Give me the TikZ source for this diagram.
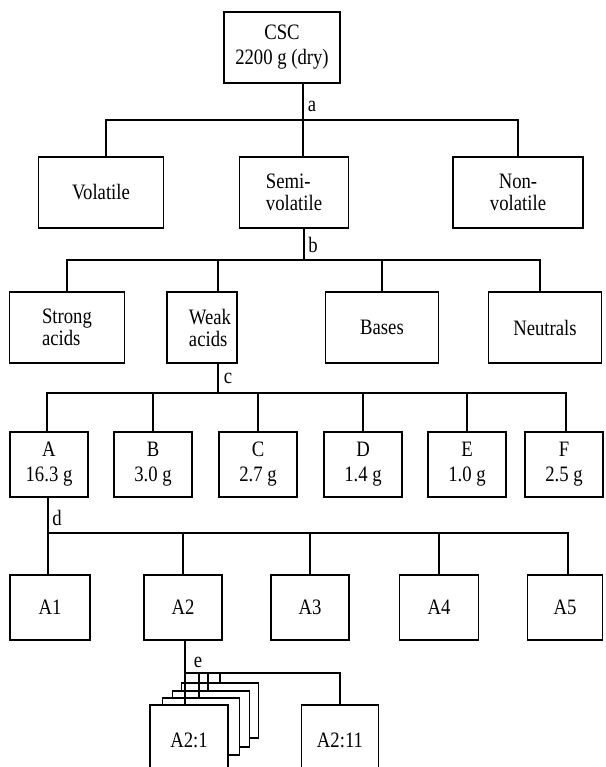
\documentclass[tikz,border=0pt]{standalone}
\usepackage{fontspec}
\setmainfont{Liberation Serif}[FakeStretch=0.85]
\begin{document}
\begin{tikzpicture}[x=1pt,y=-1pt,
  box/.style={draw, line width=1.4pt, inner sep=0pt, outer sep=0pt, fill=white,
    font=\fontsize{22}{22}\selectfont, align=center},
  mbox/.style={box, font=\fontsize{22}{25}\selectfont},
  conn/.style={line width=1.4pt},
  lbl/.style={font=\fontsize{22}{22}\selectfont, inner sep=0pt}]
\useasboundingbox (0,0) rectangle (605,767);
% level 0
\node[mbox, minimum width=116pt, minimum height=71pt] (csc) at (282,47.5) {CSC\\2200 g (dry)};
% level 1
\node[box, minimum width=125pt, minimum height=71pt] (vol) at (101,192.5) {Volatile};
\node[box, minimum width=109pt, minimum height=71pt, align=left] (semi) at (294,192.5) {Semi-\\volatile};
\node[box, minimum width=130pt, minimum height=71pt] (non) at (518,192.5) {Non-\\volatile};
% level 2
\node[box, minimum width=115pt, minimum height=71pt, align=left] (strong) at (67,327.5) {Strong\\acids};
\node[box, minimum width=70pt, minimum height=71pt, align=left] (weak) at (202,327.5) {\hspace*{16pt}Weak\\\hspace*{16pt}acids};
\node[box, minimum width=113pt, minimum height=71pt] (bases) at (382,327.5) {Bases};
\node[box, minimum width=113pt, minimum height=71pt] (neut) at (545,327.5) {Neutrals};
% level 3
\node[mbox, minimum width=78pt, minimum height=65pt] (fa) at (49,464.5) {A\\16.3 g};
\node[mbox, minimum width=78pt, minimum height=65pt] (fb) at (153,464.5) {B\\3.0 g};
\node[mbox, minimum width=78pt, minimum height=65pt] (fc) at (258,464.5) {C\\2.7 g};
\node[mbox, minimum width=78pt, minimum height=65pt] (fd) at (363,464.5) {D\\1.4 g};
\node[mbox, minimum width=78pt, minimum height=65pt] (fe) at (467,464.5) {E\\1.0 g};
\node[mbox, minimum width=78pt, minimum height=65pt] (ff) at (564,464.5) {F\\2.5 g};
% level 4
\node[box, minimum width=80pt, minimum height=65pt] (a1) at (50,607.5) {A1};
\node[box, minimum width=78pt, minimum height=65pt] (a2) at (183,607.5) {A2};
\node[box, minimum width=78pt, minimum height=65pt] (a3) at (310,607.5) {A3};
\node[box, minimum width=79pt, minimum height=65pt] (a4) at (439,607.5) {A4};
\node[box, minimum width=75pt, minimum height=65pt] (a5) at (565,607.5) {A5};
% level 5 (stack)
\node[box, minimum width=77pt, minimum height=55pt] (s4) at (220,710.5) {};
\node[box, minimum width=77pt, minimum height=56pt] (s3) at (211,719) {};
\node[box, minimum width=77pt, minimum height=57pt] (s2) at (201,726.5) {};
\node[box, minimum width=78pt, minimum height=70pt] (a21) at (189,740) {A2:1};
\node[box, minimum width=77pt, minimum height=70pt] (a211) at (340,740) {A2:11};
% bus coordinates
\coordinate (ja) at (303,120);
\coordinate (jb) at (304,260);
\coordinate (jc) at (218,393);
\coordinate (jd) at (48,533);
\coordinate (je) at (185,673);
% a
\draw[conn] (ja |- csc.south) -- (ja |- semi.north);
\draw[conn] ([xshift=5pt]vol.north) |- (ja) -| (non.north);
\node[lbl] at (312,106) {a};
% b
\draw[conn] (jb |- semi.south) -- (jb);
\draw[conn] (strong.north) |- (jb) -| ([xshift=-5pt]neut.north);
\draw[conn] (jc |- jb) -- (jc |- weak.north);
\draw[conn] (bases.north) -- (bases.north |- jb);
\node[lbl] at (313,245) {b};
% c
\draw[conn] (jc |- weak.south) -- (jc);
\draw[conn] ([xshift=-2pt]fa.north) |- (jc) -| ([xshift=2pt]ff.north);
\draw[conn] (fb.north) -- (fb.north |- jc);
\draw[conn] (fc.north) -- (fc.north |- jc);
\draw[conn] (fd.north) -- (fd.north |- jc);
\draw[conn] (fe.north) -- (fe.north |- jc);
\node[lbl] at (228,378) {c};
% d
\draw[conn] (jd |- fa.south) -- (jd |- a1.north);
\draw[conn] (jd) -| ([xshift=3pt]a5.north);
\draw[conn] (a2.north) -- (a2.north |- jd);
\draw[conn] (a3.north) -- (a3.north |- jd);
\draw[conn] (a4.north) -- (a4.north |- jd);
\node[lbl] at (57,518) {d};
% e
\draw[conn] (je |- a2.south) -- (je |- a21.north);
\draw[conn] (je) -| (a211.north);
\draw[conn] ([xshift=-2pt]s2.north) -- ([xshift=-2pt]s2.north |- je);
\draw[conn] ([xshift=-3pt]s3.north) -- ([xshift=-3pt]s3.north |- je);
\draw[conn] (s4.north) -- (s4.north |- je);
\node[lbl] at (198,662) {e};
\end{tikzpicture}
\end{document}
